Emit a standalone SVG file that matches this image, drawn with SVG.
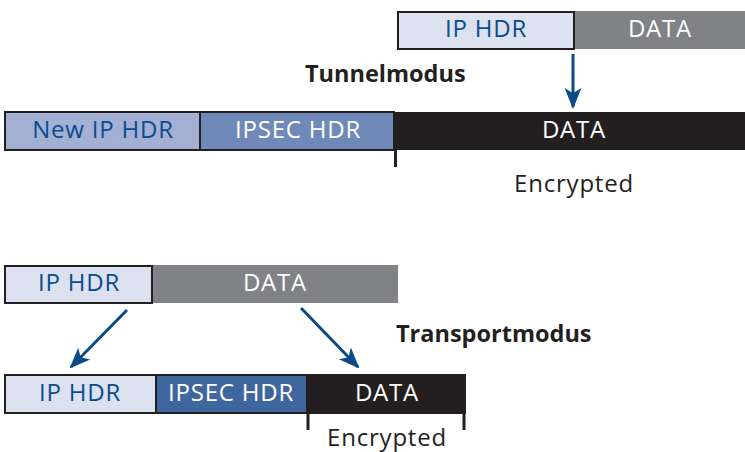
<svg xmlns="http://www.w3.org/2000/svg" width="745" height="452" viewBox="0 0 745 452">
<style>
.t{font-family:"Open Sans",Lato,sans-serif;font-size:24px;letter-spacing:0.8px;text-anchor:middle}
.w{fill:#fff}.b{fill:#0a4c8c}.k{fill:#231f20}
.h{font-family:"Open Sans",Lato,sans-serif;font-size:23.5px;font-weight:bold;fill:#231f20}
.bx{stroke:#231f20;stroke-width:2}
.arr{stroke:#0a4a87;stroke-width:3;fill:none;marker-end:url(#ah)}
.tick{stroke:#231f20;stroke-width:3}
</style>
<defs>
<marker id="ah" viewBox="0 0 10 10" refX="9" refY="5" markerWidth="7" markerHeight="7" orient="auto" markerUnits="strokeWidth">
<path d="M0,1 L10,5 L0,9 L2.5,5 Z" fill="#0a4a87"/>
</marker>
</defs>
<g id="orig-top">
<rect x="574" y="11" width="171" height="38" fill="#808285"/>
<rect x="398" y="12" width="176" height="37" fill="#dbe1ef" class="bx"/>
<text x="486" y="37" class="t b">IP HDR</text>
<text x="660" y="37" class="t w">DATA</text>
</g>
<g id="tunnel">
<rect x="5" y="112" width="740" height="38" fill="#231f20"/>
<rect x="5" y="112" width="195" height="38" fill="#a3b0d4" class="bx"/>
<rect x="200" y="112" width="194" height="38" fill="#6f89b8" class="bx"/>
<text x="103" y="138" class="t b">New IP HDR</text>
<text x="298" y="138" class="t w">IPSEC HDR</text>
<text x="574" y="138" class="t w">DATA</text>
<line x1="395.5" y1="150" x2="395.5" y2="167" class="tick"/>
<text x="574" y="192" class="t k">Encrypted</text>
</g>
<text id="lbl-tunnel" x="305" y="82" class="h">Tunnelmodus</text>
<g id="orig-bottom">
<rect x="152" y="265" width="246" height="38" fill="#808285"/>
<rect x="5" y="266" width="147" height="37" fill="#dbe1ef" class="bx"/>
<text x="79" y="291" class="t b">IP HDR</text>
<text x="275" y="291" class="t w">DATA</text>
</g>
<text id="lbl-transport" x="396" y="342" class="h">Transportmodus</text>
<g id="transport">
<rect x="5" y="375" width="151" height="38" fill="#dbe1ef" class="bx"/>
<rect x="156" y="375" width="151" height="38" fill="#4066a0" class="bx"/>
<rect x="307" y="375" width="158" height="38" fill="#231f20" class="bx"/>
<text x="80" y="401" class="t b">IP HDR</text>
<text x="231" y="401" class="t w">IPSEC HDR</text>
<text x="387" y="401" class="t w">DATA</text>
<line x1="308" y1="413" x2="308" y2="430" class="tick"/>
<line x1="464" y1="413" x2="464" y2="430" class="tick"/>
<text x="387" y="446" class="t k">Encrypted</text>
</g>
<g id="connectors">
<line x1="573" y1="54" x2="573" y2="107" class="arr"/>
<line x1="127" y1="310" x2="71" y2="367" class="arr"/>
<line x1="301" y1="308" x2="358" y2="367" class="arr"/>
</g>
</svg>
